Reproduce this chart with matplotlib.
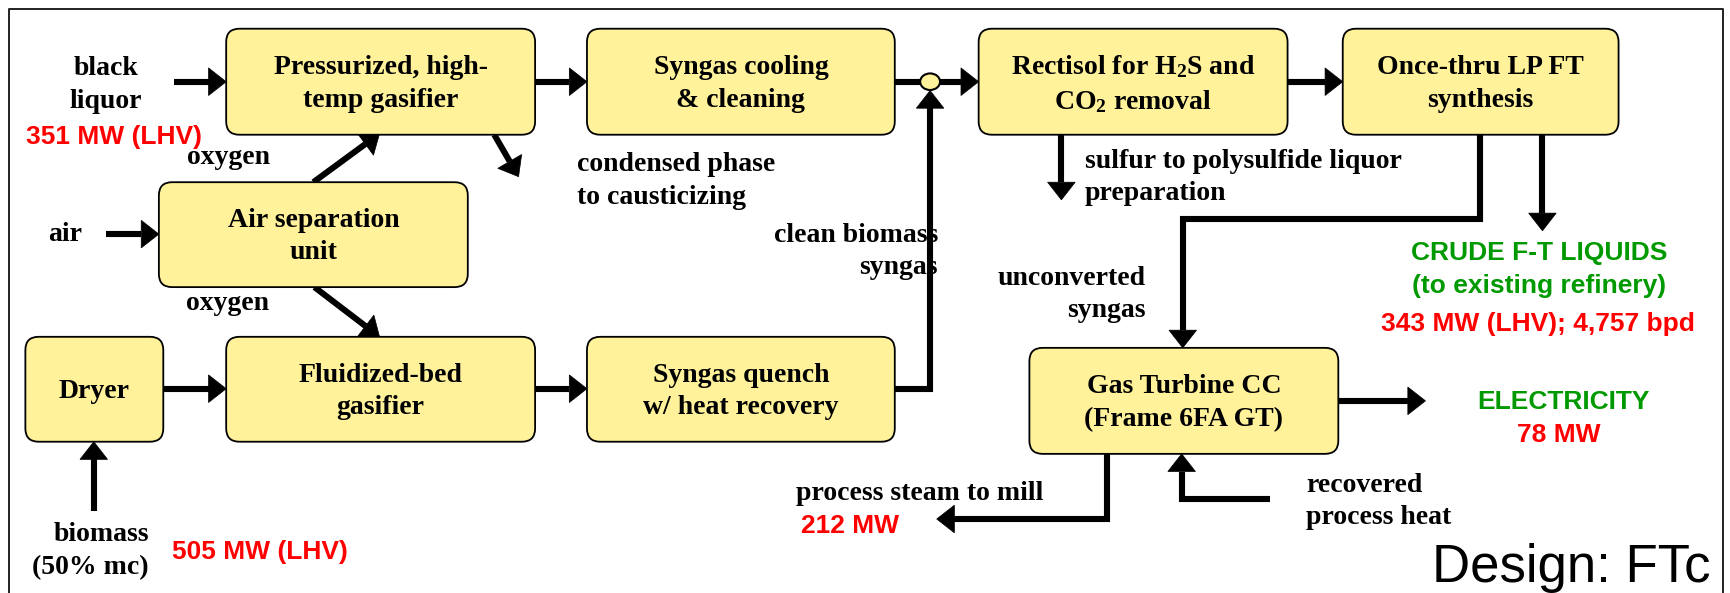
import matplotlib.pyplot as plt
from matplotlib.patches import FancyBboxPatch, Ellipse, Polygon

plt.rcParams["mathtext.fontset"] = "custom"
plt.rcParams["mathtext.rm"] = "Liberation Serif:bold"
plt.rcParams["mathtext.it"] = "Liberation Serif:bold"
plt.rcParams["mathtext.bf"] = "Liberation Serif:bold"

# canvas units: 1568 x 537 (y down)
W, H = 1568, 537

box_names = ["Pressurized, high-\ntemp gasifier", "Syngas cooling\n& cleaning",
             "Rectisol for H$_{\\mathrm{2}}$S and\nCO$_{\\mathrm{2}}$ removal",
             "Once-thru LP FT\nsynthesis",
             "Air separation\nunit", "Dryer", "Fluidized-bed\ngasifier",
             "Syngas quench\nw/ heat recovery", "Gas Turbine CC\n(Frame 6FA GT)"]
box_x0 = [205, 532, 887, 1217, 144, 23, 205, 532, 933]
box_x1 = [485, 811, 1167, 1467, 424, 148, 485, 811, 1213]
box_y0 = [26, 26, 26, 26, 165, 305, 305, 305, 315]
box_y1 = [122, 122, 122, 122, 260, 400, 400, 400, 411]

# arrow paths (last point = arrow tip)
arrows = [
    [(158, 74), (205, 74)],
    [(485, 74), (532, 74)],
    [(811, 74), (887, 74)],
    [(1167, 74), (1217, 74)],
    [(96, 212), (144, 212)],
    [(284, 165), (344, 121)],
    [(448, 122), (470, 160)],
    [(285, 260), (344, 305)],
    [(148, 352), (205, 352)],
    [(485, 352), (532, 352)],
    [(85, 463), (85, 400)],
    [(811, 352), (843, 352), (843, 82)],
    [(962, 122), (962, 181)],
    [(1398, 122), (1398, 209)],
    [(1341, 122), (1341, 198), (1072, 198), (1072, 315)],
    [(1213, 363), (1292, 363)],
    [(1003, 411), (1003, 470), (849, 470)],
    [(1151, 452), (1071, 452), (1071, 411)],
]

serif_labels = [
    ("black\nliquor", 96, 77, "center"),
    ("oxygen", 207, 143, "center"),
    ("air", 59, 212, "center"),
    ("oxygen", 206, 275, "center"),
    ("condensed phase\nto causticizing", 523, 164, "left"),
    ("clean biomass\nsyngas", 850, 228, "right"),
    ("sulfur to polysulfide liquor\npreparation", 983, 161, "left"),
    ("unconverted\nsyngas", 1038, 267, "right"),
    ("process steam to mill", 946, 447, "right"),
    ("recovered\nprocess heat", 1184, 454, "left"),
    ("biomass\n(50% mc)", 135, 499, "right"),
]
red_labels = [
    ("351 MW (LHV)", 103, 124),
    ("343 MW (LHV); 4,757 bpd", 1394, 293),
    ("78 MW", 1413, 394),
    ("212 MW", 770, 476),
    ("505 MW (LHV)", 236, 500),
]
green_labels = [
    ("CRUDE F-T LIQUIDS\n(to existing refinery)", 1395, 244),
    ("ELECTRICITY", 1417, 364),
]

fill = "#FFF29A"
red = "#FF0000"
green = "#009A00"
serif = ["Liberation Serif"]
sans = ["Liberation Sans"]
lw = 4.4
head_len, head_half = 16, 12.5

fig = plt.figure(figsize=(17.3, 5.93), dpi=100)
ax = fig.add_axes([0, 0, 1, 1])
ax.set_xlim(0, W)
ax.set_ylim(H, 0)
ax.axis("off")

# outer frame
ax.plot([8, 8, 1562, 1562], [H, 8, 8, H], color="#222222", lw=1.4, zorder=1)

for name, x0, x1, y0, y1 in zip(box_names, box_x0, box_x1, box_y0, box_y1):
    ax.add_patch(FancyBboxPatch((x0, y0), x1 - x0, y1 - y0,
                                boxstyle="round,pad=0,rounding_size=12",
                                fc=fill, ec="black", lw=1.3, zorder=3))
    ax.text((x0 + x1) / 2, (y0 + y1) / 2 + 2, name, ha="center", va="center",
            fontsize=20, fontweight="bold", family=serif, linespacing=1.38, zorder=4)


def draw_arrow(pts):
    (xa, ya), (xb, yb) = pts[-2], pts[-1]
    d = ((xb - xa) ** 2 + (yb - ya) ** 2) ** 0.5
    ux, uy = (xb - xa) / d, (yb - ya) / d
    base = (xb - ux * head_len, yb - uy * head_len)
    line = pts[:-1] + [base]
    ax.plot([p[0] for p in line], [p[1] for p in line], color="black", lw=lw,
            solid_capstyle="butt", solid_joinstyle="miter", zorder=2)
    px, py = -uy, ux
    tri = [(xb, yb),
           (base[0] + px * head_half, base[1] + py * head_half),
           (base[0] - px * head_half, base[1] - py * head_half)]
    ax.add_patch(Polygon(tri, closed=True, fc="black", ec="black", lw=0.5, zorder=2))


for pts in arrows:
    draw_arrow(pts)

# mixing node
ax.add_patch(Ellipse((843, 74), 18, 15, fc=fill, ec="black", lw=1.5, zorder=3))

for txt, x, y, ha in serif_labels:
    ax.text(x, y, txt, ha=ha, va="center", fontsize=20, fontweight="bold",
            family=serif, linespacing=1.38, zorder=1)
for txt, x, y in red_labels:
    ax.text(x, y, txt, ha="center", va="center", fontsize=19, fontweight="bold",
            family=sans, color=red, zorder=4)
for txt, x, y in green_labels:
    ax.text(x, y, txt, ha="center", va="center", fontsize=19, fontweight="bold",
            family=sans, color=green, linespacing=1.45, zorder=4)

ax.text(1550, 527, "Design: FTc", ha="right", va="baseline", fontsize=38,
        family=sans, color="black")

fig.savefig("out.png", dpi=100)
